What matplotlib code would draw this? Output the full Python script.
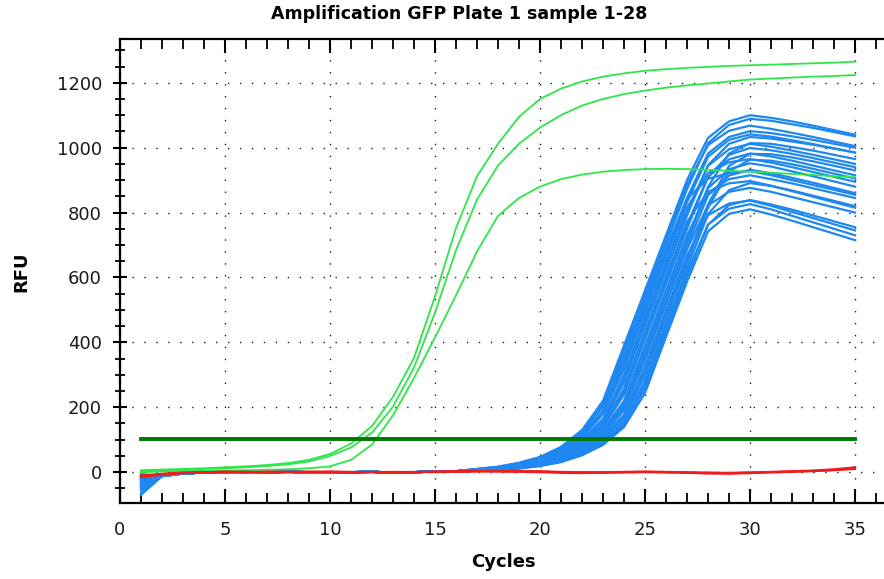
import matplotlib.pyplot as plt
from matplotlib.ticker import MultipleLocator

plt.rcParams["font.family"] = ["DejaVu Sans"]

cycles = list(range(1, 36))
threshold = 103

# green wells (3)
green_1 = [6, 8, 10, 12, 15, 18, 22, 28, 38, 56, 88, 142, 232, 352, 542, 752, 912, 1012, 1095, 1150,
           1182, 1204, 1219, 1229, 1237, 1242, 1246, 1249, 1252, 1254, 1256, 1258, 1260, 1262, 1265]
green_2 = [3, 5, 7, 10, 12, 15, 19, 24, 33, 50, 76, 122, 202, 322, 492, 684, 840, 945, 1012, 1062,
           1100, 1130, 1150, 1165, 1176, 1185, 1192, 1198, 1204, 1210, 1213, 1216, 1219, 1221, 1224]
green_3 = [0, 2, 3, 4, 5, 6, 7, 9, 12, 18, 38, 85, 175, 290, 415, 545, 680, 790, 845, 880,
           903, 917, 926, 931, 934, 935, 934, 932, 929, 926, 923, 919, 916, 912, 909]

# red wells (no amplification)
red_1 = [-12, -6, -2, 0, 1, 0, 2, 1, 0, 2, 1, 0, -1, 0, 1, 2, 3, 2, 1, 0,
         -2, -3, -1, 0, 1, 0, -2, -4, -3, -1, 0, 2, 4, 7, 12]
red_2 = [-15, -8, -3, -1, 0, 1, 0, -1, 1, 0, -1, 0, 1, 0, 2, 3, 4, 3, 2, 1,
         0, -1, -2, -1, 0, -1, -2, -3, -5, -3, -1, 1, 3, 6, 10]
red_3 = [-10, -5, -1, 0, 2, 1, 0, 1, 2, 1, 0, 1, 0, 1, 0, 1, 2, 3, 4, 3,
         1, 0, 0, 1, 2, 1, 0, -1, -2, -1, 1, 3, 5, 9, 15]

# blue wells: cycle 1 value, shared baseline for cycles 2-16, then cycles 17-35
blue_start = [-66, -52, -44, -38, -34, -30, -27, -24, -21, -18, -16, -14,
              -12, -10, -8, -6, -58, -47, -36, -25, -70, -41, -19, -9]
blue_baseline = [-12, -4, -1, 0, -1, 0, 1, 0, -1, 0, 1, -1, 0, 2, 3]
blue_rise = [
    [10, 17, 29, 47, 78, 130, 220, 390, 560, 730, 900, 1030, 1081, 1100, 1092, 1081, 1068, 1054, 1040],
    [9, 16, 26, 44, 72, 121, 202, 361, 532, 702, 872, 1014, 1070, 1089, 1083, 1072, 1061, 1048, 1035],
    [10, 16, 28, 45, 75, 125, 209, 376, 546, 716, 886, 1008, 1052, 1068, 1058, 1046, 1033, 1019, 1005],
    [9, 14, 24, 41, 67, 110, 181, 332, 505, 675, 845, 982, 1033, 1051, 1045, 1035, 1024, 1012, 1000],
    [8, 15, 23, 39, 64, 107, 179, 318, 492, 662, 832, 972, 1024, 1041, 1034, 1023, 1011, 998, 985],
    [8, 14, 21, 36, 59, 96, 157, 289, 465, 635, 805, 944, 995, 1012, 1003, 991, 978, 964, 950],
    [7, 13, 21, 34, 57, 93, 155, 276, 451, 621, 791, 946, 1012, 1033, 1028, 1019, 1009, 997, 985],
    [7, 12, 20, 31, 53, 86, 143, 250, 423, 593, 763, 910, 964, 982, 973, 960, 945, 930, 915],
    [6, 12, 18, 31, 50, 83, 138, 239, 411, 580, 750, 910, 978, 999, 992, 981, 968, 954, 940],
    [6, 11, 17, 28, 46, 76, 127, 214, 383, 553, 723, 875, 934, 952, 942, 927, 912, 896, 880],
    [8, 14, 22, 37, 61, 100, 165, 300, 475, 645, 815, 922, 955, 965, 954, 940, 925, 910, 895],
    [6, 10, 16, 27, 45, 74, 123, 205, 368, 539, 709, 879, 982, 1014, 1012, 1002, 991, 978, 965],
    [6, 9, 15, 26, 43, 71, 118, 196, 354, 526, 696, 853, 914, 932, 921, 907, 892, 876, 860],
    [6, 11, 17, 29, 47, 78, 130, 220, 390, 560, 730, 861, 903, 915, 903, 890, 875, 860, 845],
    [5, 8, 14, 22, 37, 61, 100, 165, 300, 475, 645, 815, 927, 963, 960, 949, 935, 920, 905],
    [5, 8, 13, 21, 35, 58, 94, 155, 283, 458, 628, 795, 869, 891, 882, 868, 852, 836, 820],
    [7, 12, 20, 32, 54, 88, 147, 258, 432, 602, 772, 864, 890, 897, 883, 866, 849, 832, 815],
    [6, 9, 15, 25, 42, 69, 115, 190, 345, 517, 687, 822, 864, 876, 864, 848, 832, 816, 800],
    [5, 8, 14, 23, 38, 63, 104, 173, 311, 485, 655, 825, 944, 981, 980, 970, 958, 944, 930],
    [9, 15, 25, 42, 69, 115, 190, 345, 517, 687, 843, 904, 922, 928, 915, 900, 885, 870, 855],
    [6, 9, 14, 24, 40, 65, 108, 177, 326, 498, 668, 792, 828, 837, 821, 802, 783, 764, 745],
    [5, 7, 13, 20, 34, 56, 88, 145, 270, 444, 614, 763, 812, 826, 810, 790, 770, 750, 730],
    [4, 7, 11, 19, 31, 52, 84, 139, 244, 417, 587, 742, 796, 810, 794, 775, 755, 735, 715],
    [4, 7, 12, 20, 32, 54, 88, 147, 258, 432, 602, 762, 823, 839, 825, 809, 791, 773, 755],
]

fig = plt.figure(figsize=(8.84, 5.79), dpi=100)
ax = fig.add_axes([120 / 884, 1 - 503 / 579, 764 / 884, 463.7 / 579])

for start, rise in zip(blue_start, blue_rise):
    ax.plot(cycles, [start] + blue_baseline + rise, color="#1e88f0", lw=1.6)
for g in (green_1, green_2, green_3):
    ax.plot(cycles, g, color="#2ee64a", lw=1.3)
for r in (red_1, red_2, red_3):
    ax.plot(cycles, r, color="#f01c1c", lw=1.5)
ax.plot([cycles[0], cycles[-1]], [threshold, threshold], color="#007800", lw=2.8)

ax.set_xlim(0, 36.38)
ax.set_ylim(-95, 1334)

ax.xaxis.set_major_locator(MultipleLocator(5))
ax.xaxis.set_minor_locator(MultipleLocator(1))
ax.yaxis.set_major_locator(MultipleLocator(200))
ax.yaxis.set_minor_locator(MultipleLocator(50))

ax.grid(True, which="major", color="#1a1a1a", linestyle=(0, (1, 7.6)), linewidth=1.0)

for side in ("left", "bottom", "top"):
    ax.spines[side].set_linewidth(1.6)
ax.spines["right"].set_visible(False)

ax.tick_params(which="major", direction="inout", length=10, width=1.5,
               labelsize=13, labelcolor="#1a1a1a", pad=8)
ax.tick_params(which="minor", direction="inout", length=7, width=1.3)
ax.tick_params(axis="x", which="both", top=True, direction="in")
ax.tick_params(axis="x", which="major", pad=13)

fig.text(459 / 884, 1 - 14 / 579, "Amplification GFP Plate 1 sample 1-28",
         ha="center", va="center", fontsize=12.5, fontweight="bold")
fig.text(21 / 884, 1 - 272 / 579, "RFU", ha="center", va="center",
         rotation=90, fontsize=13, fontweight="bold")
fig.text(503 / 884, 1 - 562 / 579, "Cycles", ha="center", va="center",
         fontsize=13, fontweight="bold")

fig.savefig("out.png", dpi=100)
